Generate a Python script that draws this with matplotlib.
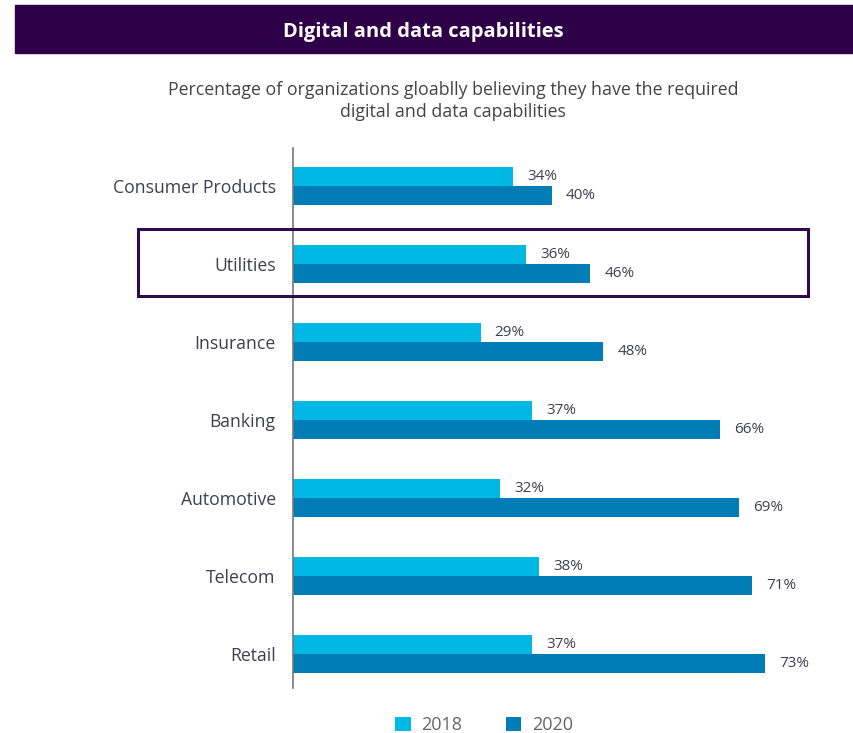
import matplotlib
matplotlib.use("Agg")
import matplotlib.pyplot as plt
from matplotlib.patches import Rectangle

categories = ["Consumer Products", "Utilities", "Insurance", "Banking",
              "Automotive", "Telecom", "Retail"]
values_2018 = [34, 36, 29, 37, 32, 38, 37]
values_2020 = [40, 46, 48, 66, 69, 71, 73]
series_labels = ["2018", "2020"]
title = "Digital and data capabilities"
subtitle = "Percentage of organizations gloablly believing they have the required\ndigital and data capabilities"

c18 = "#00B8E4"
c20 = "#007DB6"
purple = "#2E0047"
txt = "#3F3F4F"

plt.rcParams['font.family'] = ['Open Sans', 'DejaVu Sans']

W, H = 854, 733
fig = plt.figure(figsize=(W / 100, H / 100), dpi=100)

# banner
fig.patches.append(Rectangle((15 / W, 1 - 53 / H), (W - 15) / W, 48 / H,
                             transform=fig.transFigure, color=purple, zorder=0))
fig.text(423 / W, 1 - 32 / H, title, color="white", fontsize=14.5,
         fontweight="bold", ha="center", va="center")
fig.text(453 / W, 1 - 101 / H, subtitle, color="#444444", fontsize=12.8,
         ha="center", va="center", linespacing=1.35)

# axes
left, right = 293, 843
top, bottom = 148, 688
ax = fig.add_axes([left / W, 1 - bottom / H, (right - left) / W, (bottom - top) / H])
px_per = 6.466
ax.set_xlim(0, (right - left) / px_per)
ax.set_ylim(6.44, -0.49)

bh = 0.245
ys = list(range(len(categories)))
ax.barh([y - bh / 2 for y in ys], values_2018, height=bh, color=c18, label=series_labels[0])
ax.barh([y + bh / 2 for y in ys], values_2020, height=bh, color=c20, label=series_labels[1])

for y, v in zip(ys, values_2018):
    ax.text(v + 2.2, y - bh / 2, f"{v}%", va="center", ha="left", fontsize=11, color=txt)
for y, v in zip(ys, values_2020):
    ax.text(v + 2.2, y + bh / 2, f"{v}%", va="center", ha="left", fontsize=11, color=txt)

ax.set_yticks(ys)
ax.set_yticklabels(categories, fontsize=12.7, color=txt)
ax.tick_params(axis="y", length=0, pad=12.5)
ax.set_xticks([])
for s in ["top", "right", "bottom"]:
    ax.spines[s].set_visible(False)
ax.spines["left"].set_color("#777777")
ax.spines["left"].set_linewidth(1.2)

# highlight box around Utilities
fig.patches.append(Rectangle((138 / W, 1 - 296 / H), (808 - 138) / W, (296 - 229) / H,
                             transform=fig.transFigure, fill=False,
                             edgecolor="#2E0A4E", linewidth=2.2, zorder=5))

# legend
leg = fig.legend(loc="center", bbox_to_anchor=(484 / W, 1 - 725 / H), ncol=2,
                 frameon=False, fontsize=13, handlelength=0.85, handleheight=0.85,
                 columnspacing=2.4, handletextpad=0.6)
for t in leg.get_texts():
    t.set_color("#666666")

fig.savefig("out.png", dpi=100)
